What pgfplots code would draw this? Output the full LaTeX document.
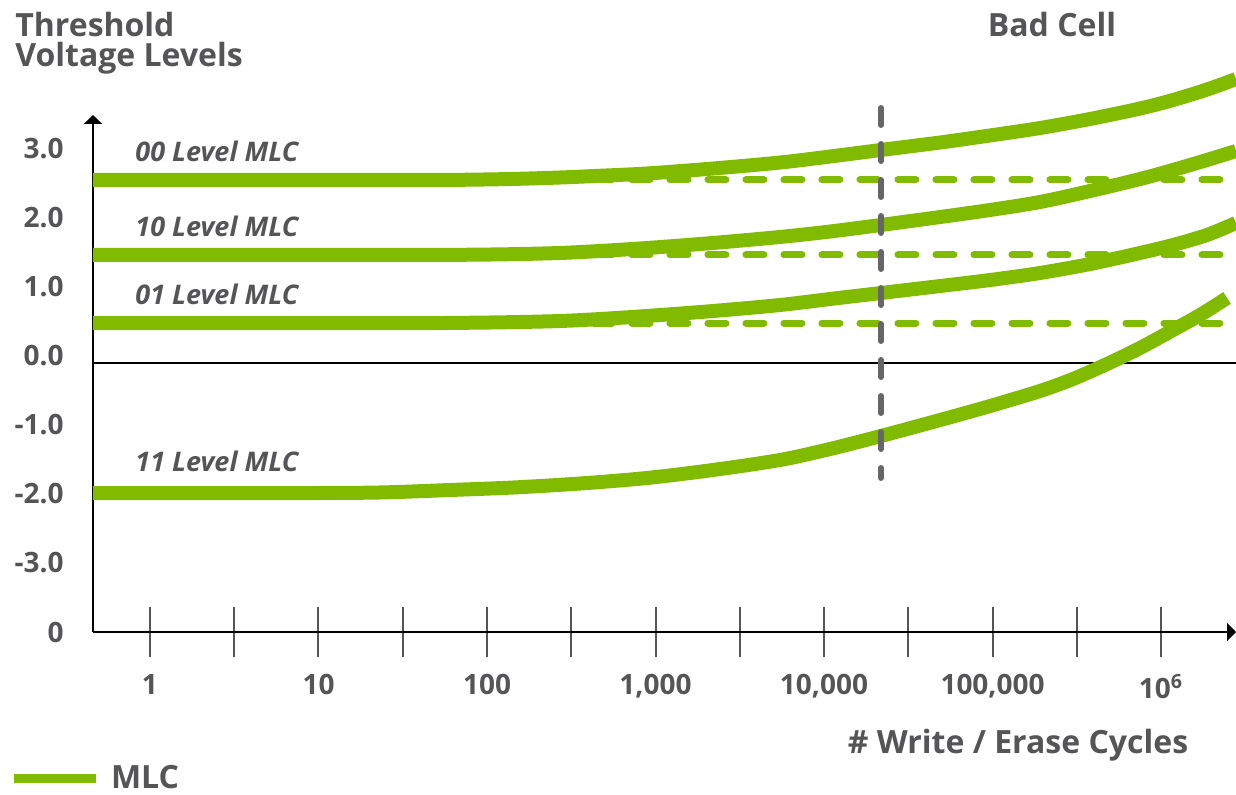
\documentclass[border=0pt]{standalone}
\usepackage{pgfplots}
\pgfplotsset{compat=1.18}
\usetikzlibrary{arrows.meta}
\usepackage{fontspec}
\setmainfont{Open Sans}
\definecolor{mlc}{RGB}{128,187,0}
\definecolor{txt}{RGB}{85,85,87}
\definecolor{badgray}{RGB}{102,102,104}
\begin{document}
\begin{tikzpicture}[x=1pt,y=1pt]
\useasboundingbox (0,0) rectangle (618,397);
\begin{axis}[
  at={(46.5pt,81pt)}, anchor=south west,
  scale only axis, width=571.5pt, height=258.5pt,
  xmode=log, xmin=0.459, xmax=2786121,
  ymin=-4, ymax=3.4928,
  axis x line=bottom, axis y line=left,
  axis line style={line width=1.3pt, black, -{Triangle[length=4.5pt,width=9pt]}},
  clip=false,
  xminorticks=false,
  ytick={-4,-3,-2,-1,0,1,2,3},
  yticklabels={},
  ytick style={draw=none},
  xtick={1,3.1623,10,31.623,100,316.23,1000,3162.3,10000,31623,100000,316228,1000000},
  xticklabels={\mbox{1},,\mbox{10},,\mbox{100},,\mbox{1,000},,\mbox{10,000},,\mbox{100,000},,\mbox{10\textsuperscript{6}}},
  xtick style={draw=txt, line width=1pt},
  major tick length=25pt, tick align=center,
  ticklabel style={font=\fontsize{14}{16}\selectfont\bfseries, text=txt},
  xticklabel style={yshift=-5pt},
  legend style={at={(axis description cs:-0.0738,-0.284)}, anchor=west, draw=none, fill=none, inner sep=0pt,
    nodes={inner sep=1pt}, font=\fontsize{16}{18}\selectfont\bfseries, text=txt},
  legend image code/.code={\draw[#1] (0pt,0pt) -- (41pt,0pt); \path (45.5pt,0pt);},
]
% dashed reference levels
\addplot[forget plot, mlc, line width=3.5pt, dash pattern=on 9pt off 10pt, line cap=round] coordinates {(90.8,2.551) (2786121,2.551)};
\addplot[forget plot, mlc, line width=3.5pt, dash pattern=on 9pt off 10pt, line cap=round] coordinates {(90.8,1.464) (2786121,1.464)};
\addplot[forget plot, mlc, line width=3.5pt, dash pattern=on 9pt off 10pt, line cap=round] coordinates {(90.8,0.478) (2786121,0.478)};
% zero line
\addplot[forget plot, black, line width=1pt] coordinates {(0.459,-0.101) (2786121,-0.101)};
% 00 Level
\addplot[forget plot, mlc, line width=7pt, smooth] coordinates {
(0.459,2.551) (40.04,2.551) (72.07,2.554) (136.9,2.565) (271.2,2.587) (468.4,2.612) (890.3,2.645)
(2194,2.717) (5483,2.804) (10855,2.891) (21791,2.986) (48802,3.094) (96650,3.196) (191400,3.304)
(379000,3.435) (750800,3.587) (1178600,3.710) (1875000,3.862) (2787000,4.014)};
% 10 Level
\addplot[forget plot, mlc, line width=7pt, smooth] coordinates {
(0.459,1.464) (40.04,1.464) (72.07,1.467) (136.9,1.475) (271.2,1.493) (468.4,1.522) (890.3,1.565)
(2194,1.638) (5483,1.725) (10855,1.804) (21791,1.899) (48802,2.014) (96650,2.116) (191400,2.232)
(379000,2.391) (750800,2.565) (1178600,2.696) (1875000,2.841) (2787000,2.971)};
% 01 Level
\addplot[forget plot, mlc, line width=7pt, smooth] coordinates {
(0.459,0.478) (40.04,0.478) (72.07,0.481) (136.9,0.490) (271.2,0.507) (468.4,0.536) (890.3,0.580)
(2194,0.652) (5483,0.739) (10855,0.826) (21791,0.913) (48802,1.014) (96650,1.101) (191400,1.203)
(379000,1.333) (750800,1.493) (1178600,1.609) (1875000,1.754) (2787000,1.928)};
% 11 Level
\addplot[forget plot, mlc, line width=7pt, smooth] coordinates {
(0.459,-1.986) (7.766,-1.986) (23.17,-1.978) (60.31,-1.942) (142.7,-1.906) (356.4,-1.848) (890.3,-1.768)
(2194,-1.652) (5483,-1.507) (10855,-1.348) (21791,-1.159) (48802,-0.928) (96650,-0.725) (191400,-0.507)
(300400,-0.333) (478100,-0.116) (750800,0.116) (1178600,0.377) (1704000,0.594) (2465000,0.841)};
% bad cell marker
\addplot[forget plot, badgray, line width=3pt, dash pattern=on 8.5pt off 9.5pt, line cap=round] coordinates {(21790,3.594) (21790,-1.768)};
\addlegendimage{mlc, line width=4.5pt}
\addlegendentry{MLC}
\end{axis}
% y tick labels (right edge at x=32pt; tick y -> 81 + 34.5*(y+4))
\begin{scope}[every node/.style={anchor=east, inner sep=0pt, text=txt, font=\fontsize{14}{16}\selectfont\bfseries}]
\node at (32,81) {0};
\node at (32,115.5) {-3.0};
\node at (32,150) {-2.0};
\node at (32,184.5) {-1.0};
\node at (32,219) {0.0};
\node at (32,253.5) {1.0};
\node at (32,288) {2.0};
\node at (32,322.5) {3.0};
\end{scope}
\node[anchor=base west, inner sep=0pt, text=txt, font=\fontsize{16}{18}\selectfont\bfseries] at (7.5,378.5) {Threshold};
\node[anchor=base west, inner sep=0pt, text=txt, font=\fontsize{16}{18}\selectfont\bfseries] at (7.5,363.7) {Voltage Levels};
\node[anchor=base, inner sep=0pt, text=txt, font=\fontsize{16}{18}\selectfont\bfseries] at (526,378.5) {Bad Cell};
\node[anchor=base, inner sep=0pt, text=txt, font=\fontsize{16}{18}\selectfont\bfseries] at (509,20.5) {\# Write / Erase Cycles};
\begin{scope}[every node/.style={anchor=base west, inner sep=0pt, text=txt, font=\fontsize{13.5}{16}\selectfont\bfseries\itshape}]
\node at (67.5,316) {00 Level MLC};
\node at (67.5,278.5) {10 Level MLC};
\node at (67.5,245) {01 Level MLC};
\node at (67.5,161.5) {11 Level MLC};
\end{scope}
\end{tikzpicture}
\end{document}
